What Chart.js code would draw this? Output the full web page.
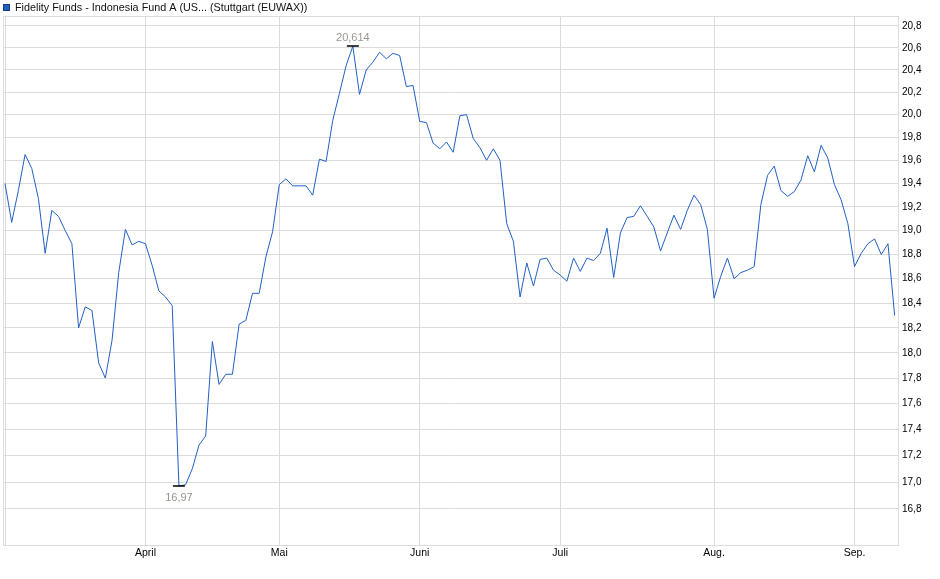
<!DOCTYPE html>
<html>
<head>
<meta charset="utf-8">
<script src="https://cdn.jsdelivr.net/npm/chart.js@4/dist/chart.umd.min.js"></script>
<style>
  html, body { margin: 0; padding: 0; background: #fff; }
  #wrap { width: 940px; height: 579px; }
</style>
</head>
<body>
<div id="wrap"><canvas id="chart" width="940" height="579"></canvas></div>
<script>
// Data (one value per trading day)
const seriesName = 'Fidelity Funds - Indonesia Fund A (US... (Stuttgart (EUWAX))';
const prices = [
  19.40, 19.07, 19.34, 19.65, 19.53, 19.27, 18.81, 19.17, 19.12, 19.00,
  18.89, 18.20, 18.37, 18.34, 17.92, 17.80, 18.10, 18.65, 19.01, 18.88,
  18.91, 18.89, 18.71, 18.50, 18.45, 18.38, 16.97, 16.98, 17.10, 17.28,
  17.35, 18.09, 17.75, 17.83, 17.83, 18.23, 18.26, 18.48, 18.48, 18.78,
  18.99, 19.39, 19.44, 19.38, 19.38, 19.38, 19.30, 19.61, 19.59, 19.95,
  20.19, 20.44, 20.614, 20.18, 20.40, 20.47, 20.56, 20.50, 20.55, 20.53,
  20.25, 20.26, 19.94, 19.93, 19.75, 19.70, 19.76, 19.67, 19.99, 20.00,
  19.79, 19.71, 19.60, 19.70, 19.60, 19.06, 18.91, 18.45, 18.73, 18.54,
  18.76, 18.77, 18.67, 18.63, 18.58, 18.77, 18.66, 18.77, 18.75, 18.81,
  19.02, 18.61, 18.98, 19.11, 19.12, 19.21, 19.12, 19.03, 18.83, 18.98,
  19.13, 19.01, 19.17, 19.30, 19.22, 19.01, 18.44, 18.62, 18.77, 18.60,
  18.65, 18.67, 18.70, 19.22, 19.47, 19.55, 19.34, 19.29, 19.33, 19.43,
  19.64, 19.50, 19.73, 19.62, 19.39, 19.26, 19.06, 18.70, 18.81, 18.89,
  18.93, 18.80, 18.89, 18.30
];
// index of the first trading day of each month
const monthTicks = [21, 41, 62, 83, 106, 127];
const monthLabels = ['April', 'Mai', 'Juni', 'Juli', 'Aug.', 'Sep.'];
const yTicks = [16.8, 17.0, 17.2, 17.4, 17.6, 17.8, 18.0, 18.2, 18.4, 18.6, 18.8,
                19.0, 19.2, 19.4, 19.6, 19.8, 20.0, 20.2, 20.4, 20.6, 20.8];
const yMin = 16.533, yMax = 20.892;

const lineColor = '#2060c4';
const gridColor = '#dcdcdc';
const fmt = v => String(v).replace('.', ',');

// frame + legend + high/low markers
const extras = {
  id: 'extras',
  beforeDatasetsDraw(chart) {
    const a = chart.chartArea, ctx = chart.ctx;
    ctx.save();
    ctx.strokeStyle = gridColor;
    ctx.lineWidth = 1;
    ctx.strokeRect(a.left + 0.5, a.top + 0.5, a.right - a.left, a.bottom - a.top);
    ctx.restore();
  },
  afterDatasetsDraw(chart) {
    const ctx = chart.ctx, xs = chart.scales.x, ys = chart.scales.y;
    let hi = 0, lo = 0;
    prices.forEach((v, i) => {
      if (v > prices[hi]) hi = i;
      if (v < prices[lo]) lo = i;
    });
    ctx.save();
    ctx.font = '11px "Liberation Sans", Arial, sans-serif';
    ctx.textAlign = 'center';
    ctx.strokeStyle = '#000';
    ctx.lineWidth = 1.5;
    [[hi, true], [lo, false]].forEach(([i, top]) => {
      const px = xs.getPixelForValue(i), py = Math.round(ys.getPixelForValue(prices[i]));
      ctx.beginPath();
      ctx.moveTo(px - 6, py);
      ctx.lineTo(px + 6, py);
      ctx.stroke();
      ctx.fillStyle = '#9a968f';
      if (top) {
        ctx.textBaseline = 'alphabetic';
        ctx.fillText(fmt(prices[i]), px, py - 5);
      } else {
        ctx.textBaseline = 'top';
        ctx.fillText(fmt(prices[i]), px, py + 6);
      }
    });
    // legend
    ctx.fillStyle = lineColor;
    ctx.fillRect(3, 4, 7, 7);
    ctx.strokeStyle = '#183c80';
    ctx.lineWidth = 1;
    ctx.strokeRect(3.5, 4.5, 6, 6);
    ctx.fillStyle = '#111';
    ctx.font = '10.8px "Liberation Sans", Arial, sans-serif';
    ctx.textAlign = 'left';
    ctx.textBaseline = 'middle';
    ctx.fillText(seriesName, 15, 8);
    ctx.restore();
  }
};

new Chart(document.getElementById('chart'), {
  type: 'line',
  data: {
    datasets: [{
      label: seriesName,
      data: prices.map((v, i) => ({ x: i, y: v })),
      borderColor: lineColor,
      borderWidth: 1,
      pointRadius: 0,
      tension: 0,
      fill: false
    }]
  },
  options: {
    responsive: false,
    animation: false,
    layout: { padding: { left: 3, top: 16, right: 0, bottom: 0 } },
    plugins: { legend: { display: false }, tooltip: { enabled: false } },
    scales: {
      x: {
        type: 'linear',
        min: -0.3,
        max: 133.5,
        afterBuildTicks: s => { s.ticks = [0, ...monthTicks].map(value => ({ value })); },
        afterFit: s => { s.height = 34; },
        grid: { color: gridColor, drawTicks: false },
        border: { color: gridColor },
        ticks: {
          autoSkip: false,
          maxRotation: 0,
          padding: 2,
          color: '#000',
          font: { family: '"Liberation Sans", Arial, sans-serif', size: 10.5 },
          callback: v => monthLabels[monthTicks.indexOf(v)] || ''
        }
      },
      y: {
        type: 'logarithmic',
        position: 'right',
        min: yMin,
        max: yMax,
        // log scale rounds its bounds while building ticks; restore them
        afterBuildTicks: s => {
          s.ticks = yTicks.map(value => ({ value }));
          s.min = yMin;
          s.max = yMax;
        },
        afterFit: s => { s.width = 42; },
        grid: { color: gridColor, drawTicks: false },
        border: { color: gridColor },
        ticks: {
          autoSkip: false,
          padding: 4,
          color: '#000',
          font: { family: '"Liberation Sans", Arial, sans-serif', size: 10 },
          callback: v => v.toFixed(1).replace('.', ',')
        }
      }
    }
  },
  plugins: [extras]
});
</script>
</body>
</html>
